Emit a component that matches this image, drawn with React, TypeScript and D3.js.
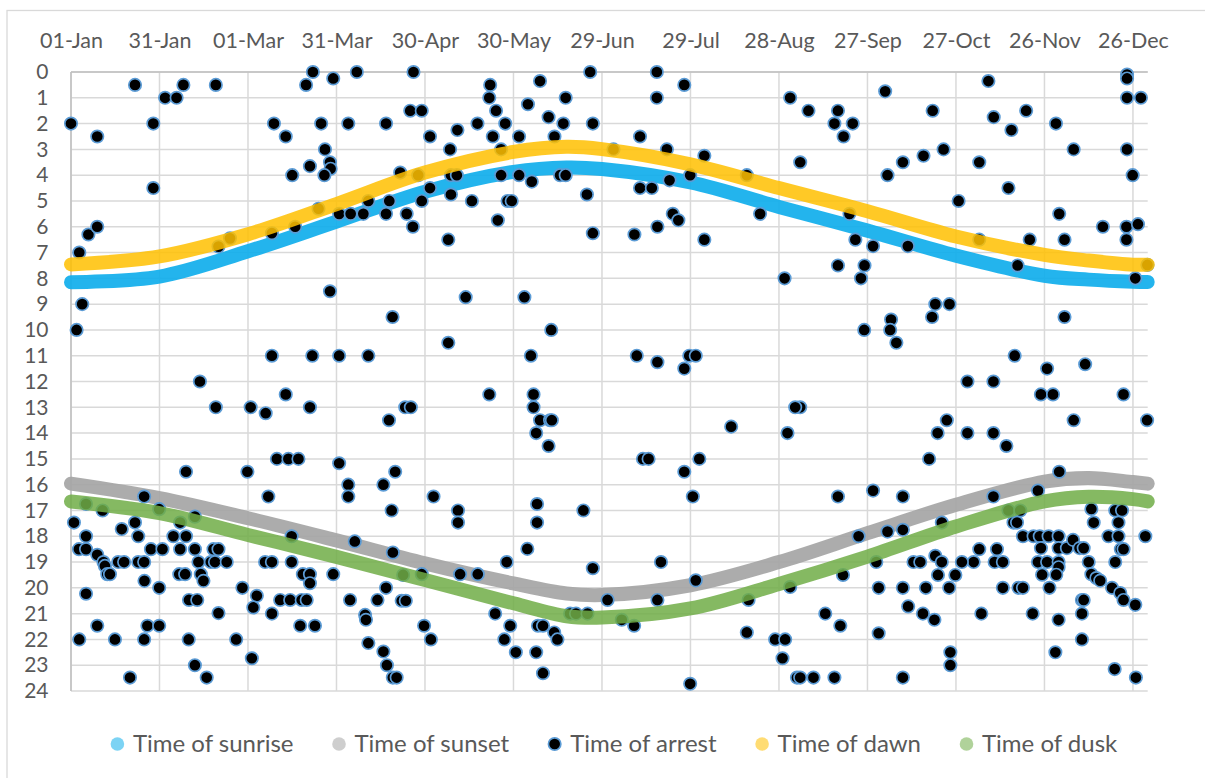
import React, { useEffect, useRef } from "react";
import * as d3 from "d3";

const W = 1205;
const H = 778;
const FONT = "Lato, 'Open Sans', sans-serif";
const TEXT = "#595959";

// X axis: days since 01-Jan (leap year), ticks every 30 days
const tickDays = [0, 30, 60, 90, 120, 150, 180, 210, 240, 270, 300, 330, 360];
const tickLabels = ["01-Jan", "31-Jan", "01-Mar", "31-Mar", "30-Apr", "30-May", "29-Jun", "29-Jul", "28-Aug", "27-Sep", "27-Oct", "26-Nov", "26-Dec"];
const hourTicks = [0, 1, 2, 3, 4, 5, 6, 7, 8, 9, 10, 11, 12, 13, 14, 15, 16, 17, 18, 19, 20, 21, 22, 23, 24];

// Sun curves (hours), read at these days
const curveDays = [0, 30, 60, 90, 120, 150, 168, 180, 210, 240, 270, 300, 330, 345, 360, 365];
const sunrise = [8.15, 7.93, 6.95, 5.8, 4.64, 3.87, 3.7, 3.76, 4.28, 5.23, 6.15, 7.12, 7.9, 8.05, 8.13, 8.14];
const dawn = [7.46, 7.15, 6.29, 5.12, 3.9, 3.1, 2.9, 2.99, 3.58, 4.5, 5.4, 6.38, 7.09, 7.31, 7.47, 7.47];
const sunset = [15.96, 16.52, 17.3, 18.16, 19.05, 19.83, 20.22, 20.28, 19.9, 19.0, 17.88, 16.78, 15.88, 15.74, 15.9, 15.96];
const dusk = [16.65, 17.1, 17.95, 18.8, 19.7, 20.6, 21.1, 21.15, 20.8, 19.85, 18.79, 17.62, 16.65, 16.47, 16.56, 16.65];

// Arrests: [day of year, hour]
const arrests: [number, number][] = [
  [0,2],[8.9,2.5],[21.7,0.5],[27.9,2],[27.9,4.5],[31.9,1],[35.8,1],[38.1,0.5],[49.1,0.5],[5.9,6.3],[8.9,6],[2.8,7],[68.8,2],[72.8,2.5],[75,4],[79.7,0.5],[82,0],[88.9,0.25],[84.8,2],[86.1,3],[87.8,3.5],[88,3.75],[85.9,4],[81,3.65],[96.9,0],[94,2],[106.8,2],[68.1,6.25],[76,6],[90.9,5.5],[94.8,5.5],[99.1,5.5],[100.8,5],[106.8,5.5],[107.9,5],[111.6,3.9],[50,6.77],[53.9,6.45],[83.9,5.3],[117.7,4],
  [116.1,0],[115,1.5],[118.9,1.5],[121.7,2.5],[128.5,3],[131,2.25],[128.8,4],[130.8,4],[137.8,2],[142.1,0.5],[141.8,1],[144.1,1.5],[147.2,2],[143,2.5],[145.8,3],[151.9,2.5],[154.9,1.25],[159,0.35],[161.9,1.75],[166.9,2],[167.7,1],[163.9,2.5],[176,0],[176.9,2],[145.8,4],[151.9,4],[156.2,4.25],[165.8,4],[167.7,4],[174.9,4.75],[121.7,4.5],[118.9,5],[128.8,4.75],[135.9,5],[148,5],[149.4,5],[144.7,5.75],[113.8,5.5],[115.9,6],[127.9,6.5],[176.9,6.25],[183.9,3],[192.9,2.5],[198.6,0],[198.6,1],[207.9,0.5],[202,3],[214.7,3.25],[192.9,4.5],[196.9,4.5],[202.9,4.2],[209.9,4],[204,5.5],[205.9,5.75],[198.8,6],[191,6.3],[214.7,6.5],[229.1,4],[233.6,5.5],[243.8,1],[247.2,3.5],
  [250,1.5],[260,1.5],[258.8,2],[265,2],[261.9,2.5],[276,0.75],[276.8,4],[282,3.5],[289,3.25],[295.8,3],[292.1,1.5],[311,0.35],[312.8,1.75],[318.8,2.25],[323.8,1.5],[307.9,3.5],[317.8,4.5],[300.9,5],[333.9,2],[339.9,3],[335,5.5],[336.8,6.5],[325,6.5],[349.8,6],[358,0.1],[358,0.25],[358,1],[362.7,1],[358,3],[359.9,4],[357.8,6],[361.7,5.9],[357.8,6.5],[263.9,5.5],[265.9,6.5],[271.9,6.75],[283.7,6.75],[307.9,6.5],
  [260,7.5],[269,7.5],[267.8,8],[320.9,7.5],[360.8,8],[364.9,7.48],[293,9],[297.8,9],[291.9,9.5],[278,9.6],[277.7,10],[268.9,10],[279.8,10.5],[336.8,9.5],[319.9,11],[330.9,11.5],[343.8,11.33],[303.9,12],[312.7,12],[328.8,12.5],[332.9,12.5],[356.8,12.5],[247.2,13],[339.9,13.5],[364.8,13.5],[296.9,13.5],[293.8,14],[303.9,14],[312.7,14],[317.1,14.5],[290.9,15],[335,15.5],[327.8,16.23],[260,16.46],[271.9,16.23],[282,16.46],[312.7,16.46],
  [133.8,8.73],[153.7,8.73],[162.8,10],[127.9,10.5],[155.9,11],[241.9,8],[191.8,11],[198.8,11.25],[209.6,11],[211.8,11],[207.9,11.5],[141.8,12.5],[156.8,12.5],[156.8,13],[113.3,13],[115.2,13],[159,13.5],[162.4,13.5],[163,13.5],[157.7,14],[161.9,14.5],[245.5,13],[223.8,13.75],[242.9,14],[193.9,15],[195.8,15],[213,15],[207.9,15.5],[109.9,15.5],[122.9,16.46],[210.8,16.46],
  [3.8,9],[1.9,10],[87.8,8.5],[109,9.5],[68.1,11],[81.8,11],[90.9,11],[100.8,11],[43.7,12],[49.1,13],[60.9,13],[66,13.23],[72.8,12.5],[81,13],[107.8,13.5],[39,15.5],[59.8,15.5],[69.8,15],[73.7,15],[77.1,15],[90.9,15.17],[94,16],[105.9,16],[24.8,16.46],[66.9,16.46],[94,16.46],
  [1,17.47],[5.1,16.75],[10.7,17],[29.9,16.95],[42,17.24],[108.7,17],[109.1,18.63],[2.7,18.5],[5.1,18.5],[5.1,18],[8.9,18.72],[11,19],[11.5,19.15],[12.3,19.47],[13.2,19.47],[16,19],[18,19],[2.8,22],[5.1,20.23],[8.9,21.47],[14.9,22],[20,23.48],[17.2,17.72],[21.7,17.47],[22.8,18],[22.8,19],[24.8,19],[24.9,19.73],[27.1,18.5],[31,18.5],[29.9,20],[24.8,22],[25.9,21.47],[29.9,21.47],[34.7,18],[37,17.47],[37,18.5],[39,18],[42,18.5],[43.2,19],[36.7,19.47],[38.7,19.47],[44,19.47],[44.9,19.73],[40,20.47],[42.8,20.47],[39.9,22],[42,23],[46,23.48],[48.3,18.5],[50,18.5],[47.4,19],[48.8,19],[52.8,19],[50,20.98],[56,22],[58.1,20],[61.3,22.73],[63,20.31],[61.8,20.76],[65.8,19],[68.1,19],[68.1,21],[70.9,20.47],[74.3,20.47],[74.8,18],[74.8,19],[78.2,20.47],[79.9,20.47],[78.6,19.47],[81,19.47],[81,19.82],[77.7,21.47],[82.7,21.47],[88.9,19.47],[94.6,20.47],[99.7,21.05],[100,21.24],[100.8,22.14],[103.9,20.47],[105.9,22.47],[107.1,23],[109.1,23.48],[110.4,23.48],[106.8,20],[112.6,19.5],[112.1,20.5],[113.5,20.5],[96.2,18.2],
  [131.2,17],[131.2,17.47],[158,16.75],[158,17.47],[173.7,17],[154.7,18.49],[147.7,19],[131.9,19.47],[137.9,19.47],[118.9,19.47],[176.9,19.24],[200,19],[211.8,19.71],[143.8,21],[148.9,21.47],[146.9,22],[150.8,22.5],[157.7,22.5],[160,23.31],[158.3,21.47],[160,21.47],[163.8,21.73],[164.9,22],[119.7,21.47],[122,22],[169.2,21],[171.2,21],[175.1,21],[181.9,20.47],[186.7,21.24],[190.9,21.47],[198.8,20.47],[209.9,23.72],[229.7,20.47],[229.1,21.73],[238.7,22],[242.1,22],[241.2,22.73],[243.8,19.97],[246.1,23.48],
  [267,18],[276.8,17.82],[282,17.75],[295.2,17.47],[317.8,17],[321.8,17],[319.5,17.47],[320.7,17.47],[322.7,18],[326.3,18],[328.4,18],[331.4,18],[334.8,18],[328.8,18.46],[334.8,18.46],[337.6,18.46],[339.7,18.14],[341.9,18.46],[343.3,18.46],[327.8,19],[330.9,19],[334.8,19],[334.8,19.2],[334,19.49],[329.2,19.49],[331.7,20],[345,19],[345.9,19.47],[347.6,19.62],[348.9,19.72],[352.9,20],[355.7,20.2],[356.8,20.47],[360.8,20.66],[354,19],[351.7,18],[355.1,18],[355.9,18.5],[356.8,18.5],[354,17],[356.3,17],[355.1,17.47],[345.9,16.94],[346.7,17.47],[364.2,18],[342.7,20.47],[343.3,20.47],[342.7,21],[342.7,22],[334.8,21.24],[333.7,22.5],[326,21],[315.9,20],[321.2,20],[322.7,20],[307.9,18.5],[313.9,18.5],[306,19],[313.1,19],[315.9,19],[302,19],[299.8,19.5],[297.7,20],[293.9,19.5],[293,18.76],[295.2,19],[285.6,19],[287.9,19],[289.8,20],[282,20],[273.8,20],[273,19],[261.7,19.5],[283.8,20.72],[288.8,21],[292.7,21.24],[308.6,21],[255.7,21],[260.8,21.47],[273.8,21.76],[298.1,22.5],[298.1,23],[247.2,23.48],[251.7,23.48],[258.8,23.48],[282,23.48],[353.8,23.15],[361,23.48]
];

const seriesNames = ["Time of sunrise", "Time of sunset", "Time of arrest", "Time of dawn", "Time of dusk"];
const seriesColors = ["#10AEEB", "#A5A5A5", "#000000", "#FFC000", "#70AD47"];

export default function App() {
  const ref = useRef<SVGSVGElement>(null);

  useEffect(() => {
    const svg = d3.select(ref.current);
    svg.selectAll("*").remove();

    const x = d3.scaleLinear().domain([0, 365]).range([71, 1147.7]);
    const y = d3.scaleLinear().domain([0, 24]).range([72, 691]);

    svg.append("rect").attr("x", 0).attr("y", 0).attr("width", W).attr("height", H).attr("fill", "#fff");
    svg.append("rect").attr("x", 7).attr("y", 10.5).attr("width", 1400).attr("height", 1000)
      .attr("fill", "none").attr("stroke", "#D9D9D9").attr("stroke-width", 1.3);

    // Gridlines
    const grid = svg.append("g");
    grid.selectAll("line.h").data(hourTicks).join("line")
      .attr("x1", x(0)).attr("x2", x(365)).attr("y1", (d) => y(d)).attr("y2", (d) => y(d))
      .attr("stroke", "#D9D9D9").attr("stroke-width", 1.5);
    grid.selectAll("line.v").data(tickDays).join("line")
      .attr("x1", (d) => x(d)).attr("x2", (d) => x(d)).attr("y1", y(0)).attr("y2", y(24))
      .attr("stroke", "#D9D9D9").attr("stroke-width", 1.5);
    // axis lines
    svg.append("line").attr("x1", x(0)).attr("x2", x(365)).attr("y1", y(0)).attr("y2", y(0))
      .attr("stroke", "#BFBFBF").attr("stroke-width", 1.5);
    svg.append("line").attr("x1", x(0)).attr("x2", x(0)).attr("y1", y(0)).attr("y2", y(24))
      .attr("stroke", "#BFBFBF").attr("stroke-width", 1.5);

    // Axes
    const gx = svg.append("g").attr("transform", `translate(0,${y(0)})`)
      .call(d3.axisTop(x).tickValues(tickDays).tickSize(0).tickPadding(24)
        .tickFormat((_d, i) => tickLabels[i]));
    gx.select(".domain").remove();
    gx.selectAll("text").attr("font-family", FONT).attr("font-size", 21.5).attr("fill", TEXT);

    const gy = svg.append("g").attr("transform", `translate(${x(0)},0)`)
      .call(d3.axisLeft(y).tickValues(hourTicks).tickSize(0).tickPadding(22.5).tickFormat(d3.format("d")));
    gy.select(".domain").remove();
    gy.selectAll("text").attr("font-family", FONT).attr("font-size", 21).attr("fill", TEXT);

    const line = d3.line<[number, number]>()
      .x((d) => x(d[0])).y((d) => y(d[1])).curve(d3.curveCatmullRom.alpha(0.5));

    const band = (vals: number[], color: string, op: number) => {
      const pts: [number, number][] = curveDays.map((d, i) => [d, vals[i]]);
      svg.append("path").attr("d", line(pts) as string).attr("fill", "none")
        .attr("stroke", color).attr("stroke-width", 14).attr("stroke-linecap", "round")
        .attr("stroke-linejoin", "round").attr("opacity", op);
    };

    band(sunrise, seriesColors[0], 0.92);
    band(sunset, seriesColors[1], 0.92);

    svg.append("g").selectAll("circle").data(arrests).join("circle")
      .attr("cx", (d) => x(d[0])).attr("cy", (d) => y(d[1])).attr("r", 6.2)
      .attr("fill", "#000").attr("stroke", "#5B9BD5").attr("stroke-width", 1.7);

    band(dawn, seriesColors[3], 0.85);
    band(dusk, seriesColors[4], 0.85);

    // Legend
    const LFS = 24;
    const lg = svg.append("g");
    const widths: number[] = [];
    const tmp = lg.selectAll("text.m").data(seriesNames).join("text")
      .attr("font-family", FONT).attr("font-size", LFS).text((d) => d);
    tmp.each(function () { widths.push((this as SVGTextElement).getComputedTextLength()); });
    tmp.remove();
    const markerToText = 15.5;
    const gap = 45.5;
    let total = 0;
    widths.forEach((w, i) => { total += markerToText + w + (i < widths.length - 1 ? gap : 0); });
    const center = 614;
    let cx = center - (total + 6.7) / 2 + 6.7;
    const ly = 744;
    seriesNames.forEach((name, i) => {
      if (i === 2) {
        lg.append("circle").attr("cx", cx).attr("cy", ly).attr("r", 6.2)
          .attr("fill", "#000").attr("stroke", "#5B9BD5").attr("stroke-width", 1.7);
      } else {
        lg.append("circle").attr("cx", cx).attr("cy", ly).attr("r", 6.8)
          .attr("fill", seriesColors[i]).attr("opacity", 0.55);
      }
      lg.append("text").attr("x", cx + markerToText).attr("y", ly).attr("dy", "0.35em")
        .attr("font-family", FONT).attr("font-size", LFS).attr("fill", TEXT).text(name);
      cx += markerToText + widths[i] + gap;
    });
  }, []);

  return <svg ref={ref} width={W} height={H} style={{ position: "absolute", left: 0, top: 0 }} />;
}
